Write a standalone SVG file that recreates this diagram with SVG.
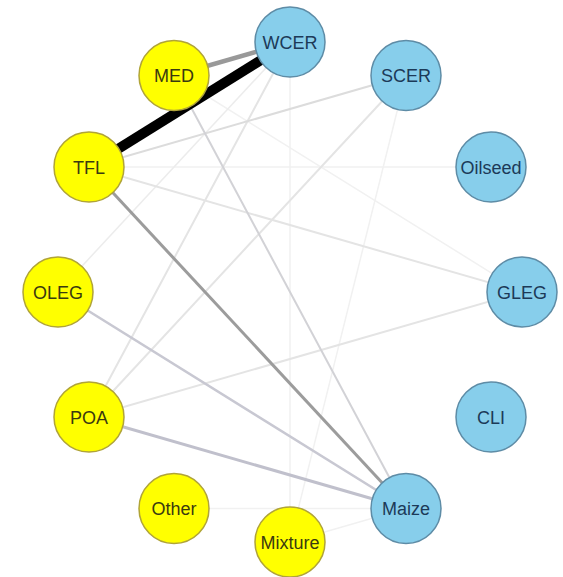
<svg xmlns="http://www.w3.org/2000/svg" width="563" height="577" viewBox="0 0 563 577">
<style>
.y circle{fill:#ffff00;stroke:#b0a438;stroke-width:1.5}
.b circle{fill:#87ceeb;stroke:#5e8ca6;stroke-width:1.5}
text{font-family:"Liberation Sans",Arial,sans-serif;font-size:18px;text-anchor:middle}
.y text{fill:#3a3a10}
.b text{fill:#1c3a58}
#edges line{stroke-linecap:butt}
.f{stroke:#f1f1f1;stroke-width:1.5}
.l{stroke:#e4e4e4;stroke-width:2}
</style>
<rect width="563" height="577" fill="#ffffff"/>
<g id="edges">
<line class="f" x1="290" y1="42" x2="290" y2="542"/>
<line class="f" x1="406" y1="75.5" x2="290" y2="542"/>
<line class="f" x1="174" y1="75.5" x2="522" y2="292"/>
<line class="f" x1="89" y1="167" x2="491" y2="167"/>
<line class="f" x1="174" y1="508.5" x2="406" y2="508.5"/>
<line class="f" x1="290" y1="542" x2="406" y2="508.5"/>
<line x1="58" y1="292" x2="290" y2="42" stroke="#ececec" stroke-width="1.5"/>
<line class="l" x1="89" y1="417" x2="290" y2="42"/>
<line class="l" x1="89" y1="417" x2="406" y2="75.5"/>
<line class="l" x1="89" y1="417" x2="522" y2="292"/>
<line class="l" x1="89" y1="167" x2="522" y2="292"/>
<line x1="89" y1="167" x2="406" y2="75.5" stroke="#dcdcdc" stroke-width="2"/>
<line x1="174" y1="75.5" x2="406" y2="508.5" stroke="#d2d2d6" stroke-width="2"/>
<line x1="58" y1="292" x2="406" y2="508.5" stroke="#c8c8d2" stroke-width="2.5"/>
<line x1="89" y1="417" x2="406" y2="508.5" stroke="#c0c0cc" stroke-width="3"/>
<line x1="89" y1="167" x2="406" y2="508.5" stroke="#9c9c9c" stroke-width="3"/>
<line x1="174" y1="75.5" x2="290" y2="42" stroke="#999999" stroke-width="4.5"/>
<line x1="89" y1="167" x2="290" y2="42" stroke="#000000" stroke-width="10"/>
</g>
<g id="WCER" class="b"><circle cx="290" cy="42" r="35"/><text x="290" y="48.5">WCER</text></g>
<g id="SCER" class="b"><circle cx="406" cy="75.5" r="35"/><text x="406" y="82">SCER</text></g>
<g id="Oilseed" class="b"><circle cx="491" cy="167" r="35"/><text x="491" y="173.5">Oilseed</text></g>
<g id="GLEG" class="b"><circle cx="522" cy="292" r="35"/><text x="522" y="298.5">GLEG</text></g>
<g id="CLI" class="b"><circle cx="491" cy="417" r="35"/><text x="491" y="423.5">CLI</text></g>
<g id="Maize" class="b"><circle cx="406" cy="508.5" r="35"/><text x="406" y="515">Maize</text></g>
<g id="Mixture" class="y"><circle cx="290" cy="542" r="35"/><text x="290" y="548.5">Mixture</text></g>
<g id="Other" class="y"><circle cx="174" cy="508.5" r="35"/><text x="174" y="515">Other</text></g>
<g id="POA" class="y"><circle cx="89" cy="417" r="35"/><text x="89" y="423.5">POA</text></g>
<g id="OLEG" class="y"><circle cx="58" cy="292" r="35"/><text x="58" y="298.5">OLEG</text></g>
<g id="TFL" class="y"><circle cx="89" cy="167" r="35"/><text x="89" y="173.5">TFL</text></g>
<g id="MED" class="y"><circle cx="174" cy="75.5" r="35"/><text x="174" y="82">MED</text></g>
</svg>
